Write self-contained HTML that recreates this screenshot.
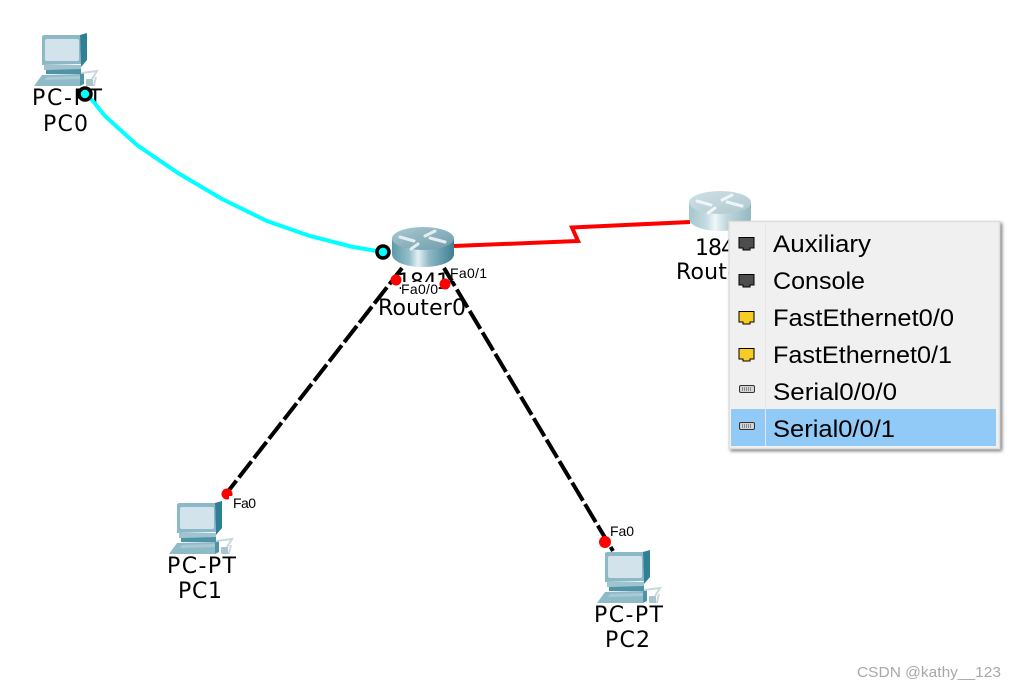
<!DOCTYPE html>
<html><head><meta charset="utf-8"><style>
html,body{margin:0;padding:0;background:#fff;width:1015px;height:688px;overflow:hidden}
svg{display:block}
text{font-family:"Liberation Sans",sans-serif;fill:#000}
.l{font-family:"DejaVu Sans",sans-serif;font-size:22px}
.p{font-size:14px}
.m{font-size:24px}
</style></head><body>
<svg width="1015" height="688" viewBox="0 0 1015 688" xmlns="http://www.w3.org/2000/svg">
<defs>
<linearGradient id="rb" x1="0" x2="1" y1="0" y2="0">
<stop offset="0" stop-color="#5f98a8"/><stop offset=".28" stop-color="#94bfca"/><stop offset=".42" stop-color="#e3f0f3"/><stop offset=".6" stop-color="#8fb8c4"/><stop offset="1" stop-color="#3f7f92"/>
</linearGradient>
<linearGradient id="rt" x1="0" x2="1" y1="0" y2="1">
<stop offset="0" stop-color="#a9c9d2"/><stop offset="1" stop-color="#6f9cab"/>
</linearGradient>
<g id="pc">
<polygon points="8,2 10,1 46,1 47,30 8,31" fill="#8db8c6"/>
<polygon points="46,1 53,-1 53,26 47,33" fill="#2f7f95"/>
<rect x="11" y="5" width="34" height="22" rx="2" fill="#d3e3eb"/>
<polygon points="10,31 47,31 47,36 10,36" fill="#a0c4cf"/>
<polygon points="12,36 47,35 47,40 12,40" fill="#4f93a7"/>
<polygon points="8,41 46,40 46,52 0,52" fill="#8fbac7"/>
<polygon points="13,43 46,42 46,45 11,46" fill="#a9cad4"/>
<polygon points="46,40 50,38 50,50 46,52" fill="#4f93a7"/>
<path d="M47 39 L63 37 L58 45 M53 51 L60 51 L62 43" fill="none" stroke="#c9d8dc" stroke-width="2"/>
<rect x="52" y="45" width="7" height="7" rx="1" fill="#a8c4cc"/>
</g>
<g id="rtr">
<path d="M0 11.500 V27 C0 35 14 40 31 40 C48 40 62 35 62 27 V11.500 Z" fill="url(#rb)"/>
<ellipse cx="31" cy="11.500" rx="31" ry="11.500" fill="url(#rt)"/>
<g stroke="#e4eef1" stroke-width="3" fill="none" stroke-linecap="round">
<path d="M8 10 L22 14"/><path d="M38 11 L53 15"/><path d="M33 9 L43 4"/><path d="M26 17 L19 22"/>
</g>
</g>
<g id="port">
<path d="M1 4.500 H16 V15 L12 15 L12 17 H5 L5 15 L1 15 Z" stroke="#000" stroke-width="1"/>
</g>
<g id="ser">
<rect x="0.500" y="0.500" width="15" height="7" rx="1.500" fill="#d4d4d4" stroke="#333"/>
<path d="M3 3H13M3 5H13" stroke="#444" stroke-width="1" stroke-dasharray="1 1"/>
</g>
<filter id="sh" x="-5%" y="-5%" width="110%" height="110%"><feDropShadow dx="2" dy="2" stdDeviation="1.500" flood-color="#000" flood-opacity=".5"/></filter>
</defs>

<!-- labels under links -->
<text class="l" x="32" y="105" textLength="70" lengthAdjust="spacing">PC-PT</text>
<text class="l" x="43" y="131" textLength="45" lengthAdjust="spacing">PC0</text>
<text class="l" x="167" y="573" textLength="69" lengthAdjust="spacing">PC-PT</text>
<text class="l" x="178" y="598" textLength="44" lengthAdjust="spacing">PC1</text>
<text class="l" x="594" y="622" textLength="69" lengthAdjust="spacing">PC-PT</text>
<text class="l" x="605" y="647" textLength="45" lengthAdjust="spacing">PC2</text>
<text class="l" x="397" y="289" textLength="53" lengthAdjust="spacing">1841</text>
<text class="l" x="378" y="315" textLength="88" lengthAdjust="spacing">Router0</text>
<text class="l" x="695" y="255" textLength="53" lengthAdjust="spacing">1841</text>
<text class="l" x="676" y="279" textLength="88" lengthAdjust="spacing">Router1</text>

<!-- links -->
<polyline points="85,94 92,100 105,116 137,145 178,173 222,199 267,221 310,236 353,247 383,252" fill="none" stroke="#00ffff" stroke-width="4"/>
<polyline points="454,246 578,241 572,227.500 690,222" fill="none" stroke="#ff0000" stroke-width="4"/>
<path d="M402 268 L226 494" fill="none" stroke="#000" stroke-width="4" stroke-dasharray="20.500 4"/>
<path d="M444 268 L613 551" fill="none" stroke="#000" stroke-width="4" stroke-dasharray="21 4"/>

<!-- devices -->
<use href="#pc" x="34" y="34"/>
<use href="#pc" x="169" y="502"/>
<use href="#pc" x="597" y="551"/>
<use href="#rtr" x="392" y="227"/>
<use href="#rtr" x="689" y="191" opacity=".55"/>

<circle cx="85" cy="94" r="6" fill="#00ffff" stroke="#000" stroke-width="3.500"/>
<circle cx="383" cy="252" r="6" fill="#00ffff" stroke="#000" stroke-width="3.500"/>

<!-- port markers -->
<circle cx="396" cy="280" r="5.500" fill="#f00"/>
<circle cx="445" cy="284" r="5.500" fill="#f00"/>
<circle cx="227" cy="494" r="5.500" fill="#f00"/>
<circle cx="605" cy="542" r="6" fill="#f00"/>

<!-- port labels with white backing -->
<rect x="401" y="282" width="37" height="15" fill="#fff"/>
<rect x="449" y="265" width="38" height="16" fill="#fff"/>
<rect x="229" y="496" width="28" height="15" fill="#fff"/>
<rect x="609" y="522" width="26" height="16" fill="#fff"/>
<path d="M444 268 L452 281" stroke="#000" stroke-width="4" fill="none"/>
<text class="p" x="401" y="294" textLength="37" lengthAdjust="spacing">Fa0/0</text>
<text class="p" x="450" y="278" textLength="37" lengthAdjust="spacing">Fa0/1</text>
<text class="p" x="233" y="508" textLength="23" lengthAdjust="spacing">Fa0</text>
<text class="p" x="610" y="536" textLength="24" lengthAdjust="spacing">Fa0</text>

<!-- menu -->
<rect x="729" y="221.500" width="270.500" height="227" fill="#f0f0f0" stroke="#dedede" stroke-width="1.500" filter="url(#sh)"/>
<rect x="731" y="409" width="265" height="37" fill="#91c9f7"/>
<rect x="765" y="224" width="1" height="222" fill="#e6e6e6"/>
<use href="#port" x="738" y="233" fill="#4d4d4d"/>
<use href="#port" x="738" y="270" fill="#4d4d4d"/>
<use href="#port" x="738" y="307" fill="#f7cc23"/>
<use href="#port" x="738" y="344" fill="#f7cc23"/>
<use href="#ser" x="739" y="385"/>
<use href="#ser" x="739" y="422"/>
<text class="m" x="773" y="252" textLength="98" lengthAdjust="spacingAndGlyphs">Auxiliary</text>
<text class="m" x="773" y="289" textLength="92" lengthAdjust="spacingAndGlyphs">Console</text>
<text class="m" x="773" y="326" textLength="181" lengthAdjust="spacingAndGlyphs">FastEthernet0/0</text>
<text class="m" x="773" y="363" textLength="179" lengthAdjust="spacingAndGlyphs">FastEthernet0/1</text>
<text class="m" x="773" y="400" textLength="124" lengthAdjust="spacingAndGlyphs">Serial0/0/0</text>
<text class="m" x="773" y="437" textLength="122" lengthAdjust="spacingAndGlyphs">Serial0/0/1</text>

<text x="857" y="677" font-size="15" style="fill:#a8a8a8" textLength="144" lengthAdjust="spacingAndGlyphs">CSDN @kathy__123</text>
</svg>
</body></html>
